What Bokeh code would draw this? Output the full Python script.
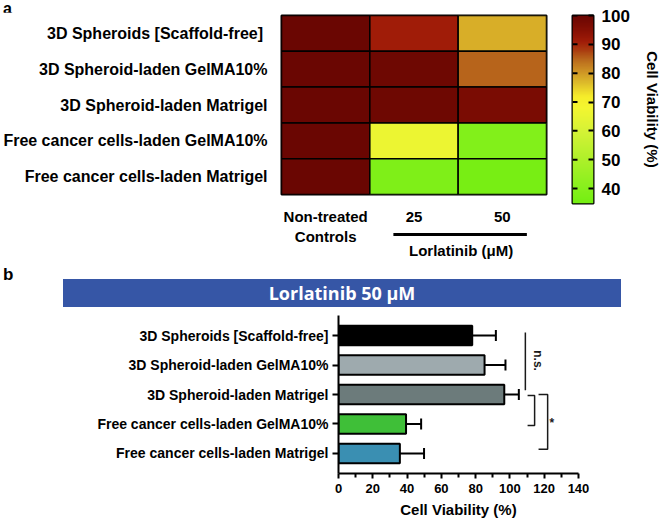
import numpy as np
from bokeh.plotting import figure
from bokeh.models import (Range1d, FixedTicker, LinearColorMapper, Label, Whisker,
                          TeeHead, ColumnDataSource, Div)
from bokeh.core.properties import value
from bokeh.layouts import column, row
from bokeh.transform import transform
from bokeh.embed import file_html
from bokeh.resources import INLINE

# ---------------- data ----------------
heat_groups = ["3D Spheroids  [Scaffold-free]", "3D Spheroid-laden GelMA10%",
               "3D Spheroid-laden Matrigel", "Free cancer cells-laden GelMA10%",
               "Free cancer cells-laden Matrigel"]
treatments = ["Non-treated\nControls", "25", "50"]
viability_control = [100, 100, 100, 100, 100]
viability_25 = [91, 99, 99, 66, 38]
viability_50 = [78, 85, 97, 39, 36]

bar_groups = ["3D Spheroids [Scaffold-free]", "3D Spheroid-laden GelMA10%",
              "3D Spheroid-laden Matrigel", "Free cancer cells-laden GelMA10%",
              "Free cancer cells-laden Matrigel"]
bar_mean = [78.0, 85.2, 96.7, 39.4, 35.8]
bar_sd = [13.8, 12.2, 8.5, 8.8, 14.1]
bar_colors = ["#000000", "#9eaaae", "#6c7b7b", "#3fbf38", "#3a8fb2"]

cbar_ticks = [40, 50, 60, 70, 80, 90, 100]
x_ticks = [0, 20, 40, 60, 80, 100, 120, 140]
x_minor = [10, 30, 50, 70, 90, 110, 130]

FONT = "Liberation Sans"
VMIN, VMAX = 34.8, 100

# ---------------- colour map ----------------
anchors = [(34.8, "#74ee12"), (40, "#86f01c"), (50, "#aef02a"), (60, "#d6f236"),
           (68, "#f4f630"), (72, "#f6ec2a"), (77, "#dcb82a"), (81, "#cc9024"),
           (85, "#b8661c"), (88, "#aa3c10"), (91, "#a01c08"), (95, "#861004"),
           (100, "#6a0602")]
a_v = np.array([a[0] for a in anchors])
a_rgb = np.array([[int(c[i:i + 2], 16) for i in (1, 3, 5)] for _, c in anchors], float)
levels = np.linspace(VMIN, VMAX, 256)
palette = ["#%02x%02x%02x" % tuple(int(round(np.interp(v, a_v, a_rgb[:, k]))) for k in range(3))
           for v in levels]
mapper = LinearColorMapper(palette=palette, low=VMIN, high=VMAX)


def style_axis_labels(ax, size, standoff):
    ax.major_label_text_font = FONT
    ax.major_label_text_font_size = size
    ax.major_label_text_font_style = "bold"
    ax.major_label_text_color = "black"
    ax.major_label_standoff = standoff


LETTER_CSS = ("position:absolute;font-family:'Liberation Sans',Arial,sans-serif;"
              "font-weight:bold;color:black;white-space:nowrap;")

# ---------------- panel a: heat map ----------------
a_div = Div(width=570, height=12, margin=0,
            text=('<div style="position:relative;width:570px;height:12px;">'
                  f'<span style="{LETTER_CSS}left:3px;top:1px;font-size:16px;line-height:16px;">'
                  'a</span></div>'))

heat = figure(width=570, height=215, x_range=Range1d(0, 3), y_range=Range1d(5, 0),
              output_backend="svg", toolbar_location=None,
              min_border_left=276, min_border_right=24, min_border_top=3, min_border_bottom=24)
heat.grid.visible = False
heat.outline_line_color = "black"
heat.outline_line_width = 2

cols = [viability_control, viability_25, viability_50]
cx, cy, cv = [], [], []
for j, col in enumerate(cols):
    for i, v in enumerate(col):
        cx.append(j + 0.5)
        cy.append(i + 0.5)
        cv.append(v)
heat.rect(x="x", y="y", width=1, height=1,
          source=ColumnDataSource(dict(x=cx, y=cy, v=cv)),
          fill_color=transform("v", mapper), line_color="black", line_width=1.5)

ya = heat.yaxis[0]
ya.ticker = FixedTicker(ticks=[i + 0.5 for i in range(len(heat_groups))])
ya.major_label_overrides = {i + 0.5: g for i, g in enumerate(heat_groups)}
ya.axis_line_color = None
ya.major_tick_line_color = None
ya.minor_tick_line_color = None
style_axis_labels(ya, "16px", 8)

# first line of each treatment label on the axis, second line in the strip below
first_lines = [t.split("\n")[0] for t in treatments]
second_lines = [t.split("\n")[1] if "\n" in t else "" for t in treatments]

xa = heat.xaxis[0]
xa.ticker = FixedTicker(ticks=[j + 0.5 for j in range(len(treatments))])
xa.major_label_overrides = {j + 0.5: t for j, t in enumerate(first_lines)}
xa.axis_line_color = None
xa.major_tick_line_color = None
xa.minor_tick_line_color = None
style_axis_labels(xa, "15px", 7)


# strip under the heat map: second label lines, dose bracket and its title
# (same x scale as the heat map; y in heat-map row units)
def hx(px):
    return (px - 276) / 90.0


def hy(py):
    return (py - 15) / 37.6


strip = figure(width=570, height=35, x_range=heat.x_range, y_range=Range1d(hy(262), hy(227)),
               x_axis_location=None, y_axis_location=None,
               output_backend="svg", toolbar_location=None,
               min_border_left=276, min_border_right=24, min_border_top=0, min_border_bottom=0)
strip.grid.visible = False
strip.outline_line_color = None
sl_x = [j + 0.5 for j, s in enumerate(second_lines) if s]
sl_t = [s for s in second_lines if s]
strip.text(x=sl_x, y=[hy(236)] * len(sl_x), text=sl_t, text_font=value(FONT),
           text_font_size="15px", text_font_style="bold", text_align="center",
           text_baseline="middle")
strip.segment(x0=[hx(390)], x1=[hx(526)], y0=[hy(234)], y1=[hy(234)],
              line_color="black", line_width=3)
strip.text(x=[hx(459)], y=[hy(250)], text=["Lorlatinib (\u03bcM)"], text_font=value(FONT),
           text_font_size="15px", text_font_style="bold", text_align="center",
           text_baseline="middle")

# ---------------- colour bar ----------------
cb = figure(width=93, height=262, x_range=Range1d(0, 1), y_range=Range1d(VMIN, VMAX),
            output_backend="svg", toolbar_location=None, y_axis_location="right",
            x_axis_location=None,
            min_border_left=2, min_border_right=64, min_border_top=15, min_border_bottom=59)
cb.grid.visible = False
cb.outline_line_color = "black"
cb.outline_line_width = 2
cb.image(image=[levels.reshape(-1, 1)], x=0, y=VMIN, dw=1, dh=VMAX - VMIN, color_mapper=mapper)
# inner tick marks on the left edge
cb.ray(x=[0] * len(cbar_ticks), y=cbar_ticks, length=5, length_units="screen", angle=0,
       line_color="black", line_width=2)

ra = cb.yaxis[0]
ra.ticker = FixedTicker(ticks=cbar_ticks)
ra.axis_line_color = None
ra.major_tick_in = 5
ra.major_tick_out = 0
ra.major_tick_line_width = 2
ra.minor_tick_line_color = None
style_axis_labels(ra, "17px", 8)
ra.axis_label = "Cell Viability (%)"
ra.axis_label_standoff = 11
ra.axis_label_text_font = FONT
ra.axis_label_text_font_size = "15px"
ra.axis_label_text_font_style = "bold"
ra.axis_label_text_color = "black"

# ---------------- panel b: letter and banner ----------------
b_div = Div(width=663, height=45, margin=0,
            text=('<div style="position:relative;width:663px;height:45px;">'
                  f'<span style="{LETTER_CSS}left:3px;top:4px;font-size:17px;line-height:17px;">'
                  'b</span>'
                  '<div style="position:absolute;left:63px;top:17px;width:558px;height:28px;'
                  'background:#3656a6;color:white;display:flex;align-items:center;'
                  'justify-content:center;font-family:\'Open Sans\',sans-serif;'
                  'font-weight:bold;font-size:18px;line-height:18px;">'
                  'Lorlatinib 50 \u03bcM</div></div>'))

# ---------------- panel b: bar chart ----------------
bars = figure(width=663, height=214, x_range=Range1d(0, 140), y_range=Range1d(4.678, -0.678),
              output_backend="svg", toolbar_location=None,
              min_border_left=338, min_border_right=85, min_border_top=8, min_border_bottom=48)
bars.grid.visible = False
bars.outline_line_color = None

src = ColumnDataSource(dict(y=list(range(len(bar_groups))), v=bar_mean,
                            hi=[m + s for m, s in zip(bar_mean, bar_sd)], color=bar_colors))
bars.add_layout(Whisker(source=src, base="y", lower="v", upper="hi", dimension="width",
                        line_width=2, line_color="black", lower_head=None,
                        upper_head=TeeHead(size=11, line_width=2, line_color="black")))
bars.hbar(y="y", left=0, right="v", height=0.66, fill_color="color",
          line_color="black", line_width=2, source=src)

yb = bars.yaxis[0]
yb.ticker = FixedTicker(ticks=list(range(len(bar_groups))))
yb.major_label_overrides = {i: g for i, g in enumerate(bar_groups)}
yb.axis_line_width = 2
yb.major_tick_line_width = 2
yb.major_tick_in = 0
yb.major_tick_out = 6
yb.minor_tick_line_color = None
style_axis_labels(yb, "14px", 4)

xb = bars.xaxis[0]
xb.ticker = FixedTicker(ticks=x_ticks, minor_ticks=x_minor)
xb.axis_line_width = 2
xb.major_tick_line_width = 2
xb.minor_tick_line_width = 2
xb.major_tick_in = 0
xb.major_tick_out = 5
xb.minor_tick_in = 0
xb.minor_tick_out = 4
style_axis_labels(xb, "13px", 5)
xb.axis_label = "Cell Viability (%)"
xb.axis_label_standoff = 5
xb.axis_label_text_font = FONT
xb.axis_label_text_font_size = "15px"
xb.axis_label_text_font_style = "bold"
xb.axis_label_text_color = "black"

# significance marks
bars.multi_line(xs=[[109, 109], [110.3, 114.4, 114.4, 110.3], [116.7, 122, 122, 116.7]],
                ys=[[-0.1, 1.86], [2.03, 2.03, 3.05, 3.05], [2.0, 2.0, 3.86, 3.86]],
                line_color="#1a1a1a", line_width=1.5)
bars.add_layout(Label(x=116.5, y=0.85, text="n.s.", angle=-np.pi / 2, text_align="center",
                      text_baseline="middle", text_font=FONT, text_font_size="12px",
                      text_font_style="bold", text_color="#1a1a1a"))
bars.add_layout(Label(x=124.5, y=2.95, text="*", text_align="center", text_baseline="middle",
                      text_font=FONT, text_font_size="12px", text_font_style="bold",
                      text_color="#1a1a1a"))

layout = column(row(column(a_div, heat, strip, spacing=0), cb, spacing=0),
                b_div, bars, spacing=0)
open("out.html", "w").write(file_html(layout, INLINE))
